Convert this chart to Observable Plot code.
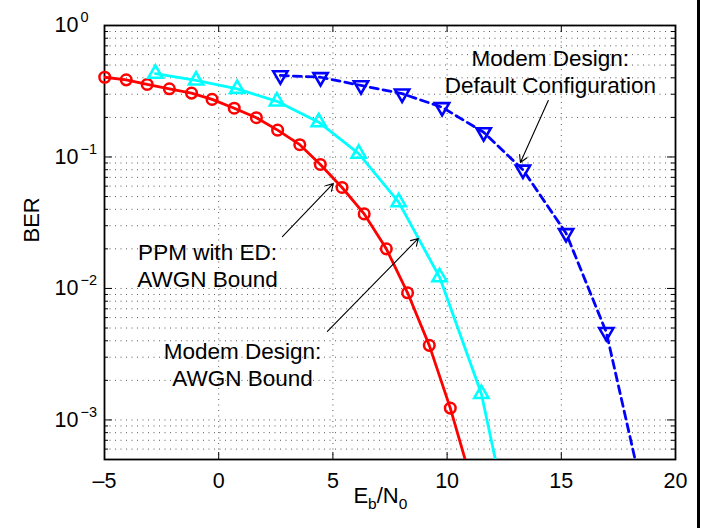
<!DOCTYPE html>
<html><head><meta charset="utf-8">
<script src="https://cdn.jsdelivr.net/npm/d3@7"></script>
<script src="https://cdn.jsdelivr.net/npm/@observablehq/plot@0.6"></script>
<style>
html,body{margin:0;padding:0;background:#fff;}
#wrap{position:relative;width:704px;height:528px;overflow:hidden;background:#fff;}
#edge{position:absolute;left:697px;top:0;width:3px;height:528px;background:#000;}
</style></head><body><div id="wrap"><div id="chart"></div><div id="edge"></div></div>
<script>
// PPM with ED: AWGN Bound (red circles)
const ppmEbN0 = [-4.99,-4.05,-3.13,-2.16,-1.19,-0.29,0.68,1.65,2.58,3.55,4.45,5.40,6.37,7.34,8.27,9.22,10.14,11.09];
const ppmBER  = [0.404,0.386,0.356,0.330,0.306,0.274,0.235,0.199,0.160,0.124,0.0877,0.0586,0.0369,0.0200,0.00927,0.00369,0.00123,0.00033];
// Modem Design: AWGN Bound (cyan triangles)
const awgnEbN0 = [-2.77,-0.99,0.81,2.55,4.38,6.13,7.88,9.67,11.50,13.29];
const awgnBER  = [0.430,0.382,0.330,0.265,0.184,0.106,0.0453,0.0122,0.00158,0.000055];
// Modem Design: Default Configuration (blue dashed, down triangles)
const defEbN0 = [2.70,4.46,6.23,8.03,9.78,11.60,13.32,15.21,16.97,18.75];
const defBER  = [0.417,0.404,0.350,0.303,0.239,0.154,0.080,0.0263,0.00465,0.0002];

// annotations
const noteText = ["Modem Design:\nDefault Configuration","PPM with ED:\nAWGN Bound","Modem Design:\nAWGN Bound"];
const noteX = [14.52,-0.49,1.04];
const noteY = [0.455,0.0151,0.00269];
const arrowX1 = [14.43,2.79,4.76];
const arrowY1 = [0.269,0.0248,0.00471];
const arrowX2 = [13.21,5.02,8.74];
const arrowY2 = [0.0908,0.0629,0.0240];

// axes
const xDomain = [-5,20];
const yDomain = [5e-4,1];
const xTicks = [-5,0,5,10,15,20];
const xGridLines = [0,5,10,15];
const yMajor = [1e-3,1e-2,1e-1,1];
const yMajorExp = ["\u22123","\u22122","\u22121","0"];

const toRows = (xs, ys) => xs.map((x,i)=>({x, y: ys[i]}));
const ppm = toRows(ppmEbN0, ppmBER);
const awgn = toRows(awgnEbN0, awgnBER);
const def = toRows(defEbN0, defBER);
const inRange = d => d.y >= yDomain[0];
const notes = noteText.map((t,i)=>({t, x: noteX[i], y: noteY[i]}));
const arrows = arrowX1.map((x1,i)=>({x1, y1: arrowY1[i], x2: arrowX2[i], y2: arrowY2[i]}));
const yMinor = d3.scaleLog().domain(yDomain).ticks().filter(v => !yMajor.some(m => Math.abs(m - v) / m < 1e-9));
const yAll = d3.scaleLog().domain(yDomain).ticks();
const yMaj = yMajor.map((v,i)=>({v, e: yMajorExp[i]}));

const W = 704, H = 528, mL = 104, mR = 29, mT = 25, mB = 69;
const fw = W - mL - mR, fh = H - mT - mB;
const grid = {stroke: "#000", strokeOpacity: 0.65, strokeWidth: 1, strokeDasharray: "1,4.5"};

const plot = Plot.plot({
  width: W, height: H,
  marginLeft: mL, marginRight: mR, marginTop: mT, marginBottom: mB,
  style: {fontFamily: "'Liberation Sans', Arial, Helvetica, sans-serif", fontSize: "21px", background: "#fff", color: "#000"},
  x: {domain: xDomain, axis: null},
  y: {type: "log", domain: yDomain, axis: null},
  marks: [
    Plot.ruleY(yAll, {y: d => d, ...grid}),
    Plot.ruleX(xGridLines, {x: d => d, ...grid}),
    // inward ticks
    Plot.tickX(xTicks, {x: d => d, insetTop: fh - 7, stroke: "#000"}),
    Plot.tickX(xTicks, {x: d => d, insetBottom: fh - 7, stroke: "#000"}),
    Plot.tickY(yMajor, {y: d => d, insetRight: fw - 8, stroke: "#000"}),
    Plot.tickY(yMajor, {y: d => d, insetLeft: fw - 8, stroke: "#000"}),
    Plot.tickY(yMinor, {y: d => d, insetRight: fw - 4, stroke: "#000"}),
    Plot.tickY(yMinor, {y: d => d, insetLeft: fw - 4, stroke: "#000"}),
    Plot.frame({stroke: "#000", strokeWidth: 1.8}),
    // x tick labels
    Plot.axisX(xTicks, {tickSize: 0, tickPadding: 13, label: null, fontSize: 21.5,
      tickFormat: d => d < 0 ? "\u2013" + (-d) : String(d)}),
    // y tick labels 10^k
    Plot.text(yMaj, {y: "v", text: () => "10", frameAnchor: "left", dx: -50, textAnchor: "start", fontSize: 21.5, fill: "#000"}),
    Plot.text(yMaj, {y: "v", text: "e", frameAnchor: "left", dx: -24, dy: -8, textAnchor: "start", fontSize: 14.5, fill: "#000"}),
    // BER label
    Plot.text(["BER"], {text: d => d, frameAnchor: "left", dx: -73, rotate: -90, fontSize: 22, fill: "#000"}),
    // curves
    Plot.line(ppm, {x: "x", y: "y", stroke: "#ff0000", strokeWidth: 2.8, clip: true}),
    Plot.dot(ppm.filter(inRange), {x: "x", y: "y", r: 5.3, stroke: "#ff0000", strokeWidth: 2.5, fill: "none"}),
    Plot.line(awgn, {x: "x", y: "y", stroke: "#00ffff", strokeWidth: 2.8, clip: true}),
    Plot.dot(awgn.filter(inRange), {x: "x", y: "y", r: 5.3, symbol: "triangle", stroke: "#00ffff", strokeWidth: 2.6, fill: "none"}),
    Plot.line(def, {x: "x", y: "y", stroke: "#0000ff", strokeWidth: 2.8, strokeDasharray: "8,5", clip: true}),
    Plot.dot(def.filter(inRange), {x: "x", y: "y", r: 5.3, symbol: "triangle", rotate: 180, stroke: "#0000ff", strokeWidth: 2.6, fill: "none"}),
    // annotations
    Plot.arrow(arrows, {x1: "x1", y1: "y1", x2: "x2", y2: "y2", stroke: "#000", strokeWidth: 1.1, headLength: 11}),
    Plot.text(notes, {x: "x", y: "y", text: "t", fontSize: 22.5, lineHeight: 1.2, fill: "#000"})
  ]
});

// x axis label E_b/N_0 with subscripts
const sx = plot.scale("x");
const lbl = d3.select(plot).append("text")
  .attr("x", sx.apply(7.1)).attr("y", 503)
  .attr("text-anchor", "middle").attr("font-size", 22).attr("fill", "#000");
lbl.append("tspan").text("E");
lbl.append("tspan").attr("dy", 6).attr("font-size", 15.5).text("b");
lbl.append("tspan").attr("dy", -6).text("/N");
lbl.append("tspan").attr("dy", 6).attr("font-size", 15.5).text("0");

document.getElementById("chart").appendChild(plot);
</script></body></html>
